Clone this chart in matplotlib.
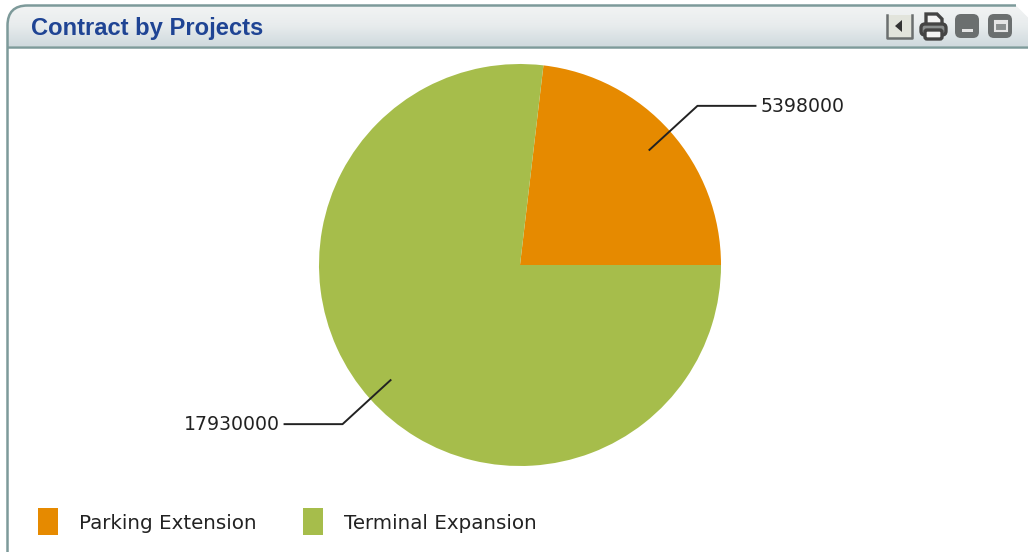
import numpy as np
import matplotlib
matplotlib.use("Agg")
import matplotlib.pyplot as plt
from matplotlib.colors import LinearSegmentedColormap
from matplotlib.patches import FancyBboxPatch, Rectangle, Polygon, PathPatch
from matplotlib.path import Path

title = "Contract by Projects"
projects = ["Parking Extension", "Terminal Expansion"]
contract_values = [5398000, 17930000]
slice_colors = ["#E68A00", "#A6BD4B"]

W, H = 1028, 552
CX, CY, R = 520, 265, 201

fig = plt.figure(figsize=(W / 100, H / 100), dpi=100, facecolor="white")

# pie goes underneath, overlay in image pixels holds chrome, leaders and text
ax = fig.add_axes([(CX - R) / W, 1 - (CY + R) / H, 2 * R / W, 2 * R / H], zorder=0)
wedges, _ = ax.pie(contract_values, colors=slice_colors, startangle=0, counterclock=True, radius=1)
ax.set_xlim(-1, 1)
ax.set_ylim(-1, 1)

bg = fig.add_axes([0, 0, 1, 1], zorder=1)
bg.patch.set_alpha(0)
bg.axis("off")

# header band, square on the right because the panel runs off the image
border = "#7D9A9A"
left, top, right, head = 7.5, 5.5, 1028, 46.5
head_verts = [(left, head), (left, top + 20), (left, top), (left + 20, top), (right - 12, top),
              (right, top + 12), (right, head), (left, head)]
head_codes = [Path.MOVETO, Path.LINETO, Path.CURVE3, Path.CURVE3, Path.LINETO,
              Path.LINETO, Path.LINETO, Path.CLOSEPOLY]
clip = PathPatch(Path(head_verts, head_codes), fc="none", ec="none")
bg.add_patch(clip)
grad = np.linspace(0, 1, 41)[:, None]
cmap = LinearSegmentedColormap.from_list("head", ["#F2F4F4", "#E8ECED", "#D0DADE"])
im = bg.imshow(grad, extent=(left, right, head, top), cmap=cmap, aspect="auto", zorder=1)
im.set_clip_path(clip)
bg.set_xlim(0, W)
bg.set_ylim(H, 0)

outline = Path([(left, H + 2), (left, top + 20), (left, top), (left + 20, top), (right - 12, top)],
               [Path.MOVETO, Path.LINETO, Path.CURVE3, Path.CURVE3, Path.LINETO])
bg.add_patch(PathPatch(outline, fc="none", ec=border, lw=1.8, zorder=2))
bg.plot([left, right], [head, head], color=border, lw=1.8, zorder=2)

bg.text(31, 28.5, title, color="#1F4494", fontsize=17.1, fontweight="bold",
        family="Liberation Sans", va="center", ha="left", zorder=3)

# header icons
icon_dark = "#6B6F6F"
bg.add_patch(Rectangle((887, 15), 25, 23, fc="#E2E4DC", ec="none", zorder=3))
bg.plot([887, 887, 912, 912], [15, 38, 38, 15], color=icon_dark, lw=1.8, zorder=3)
bg.add_patch(Polygon([(895, 26), (902, 20), (902, 32)], fc="#333333", ec="none", zorder=4))
# printer
bg.add_patch(Polygon([(926, 27), (926, 14), (937, 14), (942, 19), (942, 27)],
                     fc="#F4F4F4", ec="#444444", lw=2.4, zorder=3))
bg.add_patch(FancyBboxPatch((921, 24), 25, 11, boxstyle="round,pad=0,rounding_size=4",
                            fc="#8A8E8E", ec="#444444", lw=2.4, zorder=4))
bg.add_patch(FancyBboxPatch((925, 30), 17, 9, boxstyle="round,pad=0,rounding_size=2",
                            fc="#F4F4F4", ec="#444444", lw=2.4, zorder=5))
# minimise / maximise
bg.add_patch(FancyBboxPatch((955, 14), 24, 24, boxstyle="round,pad=0,rounding_size=6",
                            fc=icon_dark, ec="none", zorder=3))
bg.add_patch(Rectangle((962, 29), 11, 2.5, fc="#E5E5E5", ec="none", zorder=4))
bg.add_patch(FancyBboxPatch((988, 14), 24, 24, boxstyle="round,pad=0,rounding_size=6",
                            fc=icon_dark, ec="none", zorder=3))
bg.add_patch(Rectangle((994.5, 21), 12, 10, fc="#8A8E8E", ec="#E5E5E5", lw=1.5, zorder=4))
bg.add_patch(Rectangle((994.5, 21), 12, 3, fc="#E5E5E5", ec="none", zorder=5))

# leaders start on the mid-angle of each slice
for w, val in zip(wedges, contract_values):
    mid = np.deg2rad((w.theta1 + w.theta2) / 2)
    x0 = CX + 0.862 * R * np.cos(mid)
    y0 = CY - 0.862 * R * np.sin(mid)
    side = 1 if np.cos(mid) > 0 else -1
    y_sign = 1 if np.sin(mid) > 0 else -1
    x1 = x0 + side * 48
    y1 = y0 - y_sign * 44
    x2 = x1 + side * 58
    bg.plot([x0, x1, x2], [y0, y1, y1], color="#222222", lw=1.4, zorder=6)
    bg.text(x2 + side * 5, y1 + 0.5, str(val), fontsize=13.6, color="#222222", family="DejaVu Sans",
            ha="left" if side > 0 else "right", va="center", zorder=6)

# legend
legend_x = [38, 303]
for x, name, color in zip(legend_x, projects, slice_colors):
    bg.add_patch(Rectangle((x, 507.5), 20, 27, fc=color, ec="none", zorder=3))
    bg.text(x + 41, 523.5, name, fontsize=14.3, color="#222222", family="DejaVu Sans",
            va="center", ha="left", zorder=3)

fig.savefig("out.png", dpi=100, facecolor="white")
